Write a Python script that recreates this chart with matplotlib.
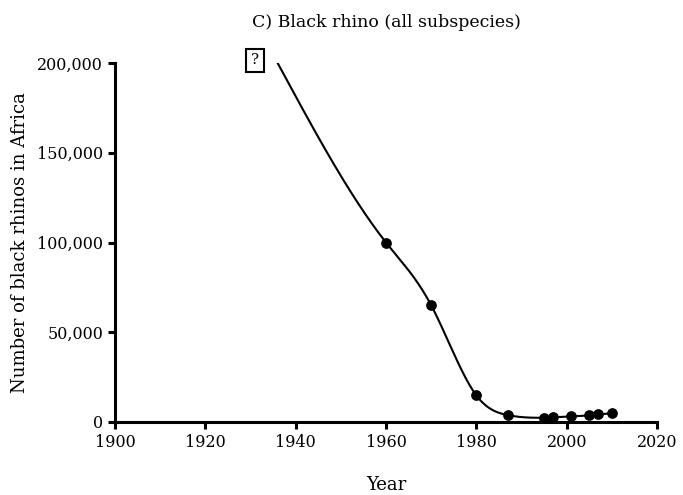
import numpy as np
import matplotlib
matplotlib.use('Agg')
import matplotlib.pyplot as plt
from matplotlib.ticker import FuncFormatter

# data
years = [1960, 1970, 1980, 1987, 1995, 1997, 2001, 2005, 2007, 2010]
rhinos = [100000, 65000, 14785, 3800, 2410, 2600, 3100, 3725, 4230, 4880]
# where the drawn curve begins (no marker there)
curve_start_year = 1936
curve_start_value = 200000
unknown_year = 1931
unknown_value = 201500


def natural_spline(x, y, xs):
    x = np.asarray(x, float)
    y = np.asarray(y, float)
    n = len(x)
    h = np.diff(x)
    A = np.zeros((n, n))
    b = np.zeros(n)
    A[0, 0] = A[-1, -1] = 1
    for i in range(1, n - 1):
        A[i, i - 1] = h[i - 1]
        A[i, i] = 2 * (h[i - 1] + h[i])
        A[i, i + 1] = h[i]
        b[i] = 6 * ((y[i + 1] - y[i]) / h[i] - (y[i] - y[i - 1]) / h[i - 1])
    M = np.linalg.solve(A, b)
    idx = np.clip(np.searchsorted(x, xs) - 1, 0, n - 2)
    t1 = x[idx + 1] - xs
    t0 = xs - x[idx]
    hi = h[idx]
    return (M[idx] * t1**3 / (6 * hi) + M[idx + 1] * t0**3 / (6 * hi)
            + (y[idx] / hi - M[idx] * hi / 6) * t1
            + (y[idx + 1] / hi - M[idx + 1] * hi / 6) * t0)


plt.rcParams['font.family'] = ['DejaVu Serif']

fig = plt.figure(figsize=(6.83, 4.95), dpi=100)
ax = fig.add_axes([0.1684, 0.1475, 0.7936, 0.7252])

cx = [curve_start_year] + years
cy = [curve_start_value] + rhinos
xs = np.linspace(cx[0], cx[-1], 600)
ax.plot(xs, natural_spline(cx, cy, xs), color='black', lw=1.5, zorder=2)
ax.scatter(years, rhinos, s=45, color='black', zorder=3, clip_on=False)

ax.text(unknown_year, unknown_value, '?', ha='center', va='center', fontsize=11,
        bbox=dict(boxstyle='square,pad=0.3', fc='white', ec='black', lw=1.5))

ax.set_xlim(1900, 2020)
ax.set_ylim(0, 200000)
ax.set_xticks(np.arange(1900, 2021, 20))
ax.set_yticks(np.arange(0, 200001, 50000))
ax.yaxis.set_major_formatter(FuncFormatter(lambda v, p: f'{int(v):,}'))

for s in ['top', 'right']:
    ax.spines[s].set_visible(False)
for s in ['left', 'bottom']:
    ax.spines[s].set_linewidth(2.2)
ax.tick_params(width=2.2, length=5, labelsize=11.5, direction='out')

ax.set_title('C) Black rhino (all subspecies)', fontsize=12.5, pad=26)
ax.set_xlabel('Year', fontsize=13, labelpad=18)
ax.set_ylabel('Number of black rhinos in Africa', fontsize=13, labelpad=6)

plt.savefig('out.png', dpi=100)
